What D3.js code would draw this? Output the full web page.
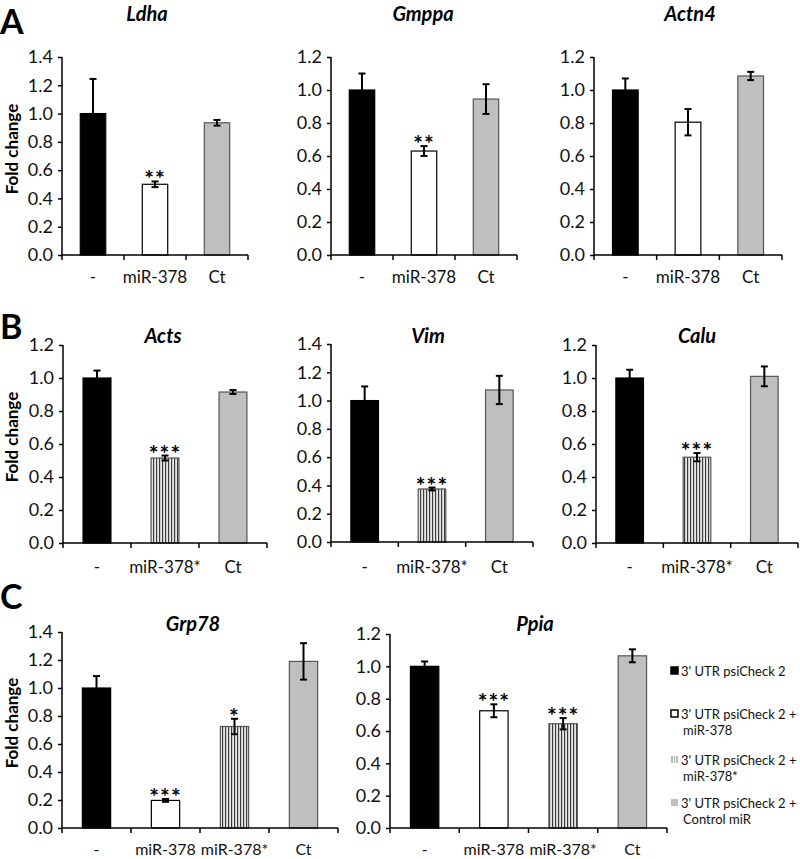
<!DOCTYPE html>
<html><head><meta charset="utf-8">
<script src="https://cdn.jsdelivr.net/npm/d3@7"></script>
<style>
body{margin:0;background:#fff;}
svg{display:block;font-family:Lato,"Open Sans",sans-serif;}
</style></head>
<body><svg id="c" width="800" height="859"></svg>
<script>
// ---- data ----
const genes = ["Ldha","Gmppa","Actn4","Acts","Vim","Calu","Grp78","Ppia"];
const catsA = ["-","miR-378","Ct"];
const catsB = ["-","miR-378*","Ct"];
const catsC = ["-","miR-378","miR-378*","Ct"];
const ldhaMean  = [1.00,0.50,0.935], ldhaErr  = [0.245,0.02,0.02], ldhaStars  = ["","**",""];
const gmppaMean = [1.00,0.63,0.945], gmppaErr = [0.10,0.03,0.09],  gmppaStars = ["","**",""];
const actn4Mean = [1.00,0.805,1.085],actn4Err = [0.07,0.08,0.025], actn4Stars = ["","",""];
const actsMean  = [1.00,0.515,0.915],actsErr  = [0.045,0.015,0.012],actsStars = ["","***",""];
const vimMean   = [1.00,0.375,1.075],vimErr   = [0.10,0.01,0.10],  vimStars   = ["","***",""];
const caluMean  = [1.00,0.52,1.01],  caluErr  = [0.05,0.025,0.06], caluStars  = ["","***",""];
const grp78Mean = [1.00,0.197,0.725,1.19], grp78Err = [0.085,0.01,0.055,0.13], grp78Stars = ["","***","*",""];
const ppiaMean  = [1.00,0.725,0.645,1.065],ppiaErr  = [0.03,0.04,0.035,0.04], ppiaStars  = ["","***","***",""];
const yMaxes = [1.4,1.2,1.2,1.2,1.4,1.2,1.4,1.2];
const yTickStep = 0.2;
const panelLetters = ["A","B","C"];
const legendLabels = [["3' UTR psiCheck 2"],["3' UTR psiCheck 2 +","miR-378"],["3' UTR psiCheck 2 +","miR-378*"],["3' UTR psiCheck 2 +","Control miR"]];
const legendKinds = ["ctrl","mir","mirstar","ct"];

// ---- layout ----
const svg = d3.select("#c");
const defs = svg.append("defs");
const pat = defs.append("pattern").attr("id","stripe").attr("patternUnits","userSpaceOnUse")
  .attr("width",3).attr("height",10);
pat.append("rect").attr("width",3).attr("height",10).attr("fill","#e6e6e6");
pat.append("line").attr("x1",0.6).attr("x2",0.6).attr("y1",0).attr("y2",10).attr("stroke","#333").attr("stroke-width",1.1);

function kindOf(c){ return c==="-"?"ctrl":c==="miR-378"?"mir":c==="miR-378*"?"mirstar":"ct"; }
const fillOf = {ctrl:"#000", mir:"#fff", mirstar:"url(#stripe)", ct:"#bfbfbf"};
const strokeOf = {ctrl:"#000", mir:"#000", mirstar:"#555", ct:"#555"};

const boxes = [
  {x0:62,x1:248,y0:57,y1:255, ty:21, ly:283, fs:17},
  {x0:331,x1:517,y0:57,y1:255, ty:21, ly:283, fs:17},
  {x0:594,x1:782,y0:57,y1:255, ty:21, ly:283, fs:17},
  {x0:63,x1:267,y0:345,y1:543, ty:343, ly:573, fs:17},
  {x0:331,x1:533,y0:344,y1:542, ty:343, ly:573, fs:17},
  {x0:596,x1:798,y0:345,y1:543, ty:343, ly:573, fs:17},
  {x0:62,x1:338,y0:632,y1:828, ty:631, ly:855, fs:16},
  {x0:390,x1:667,y0:634,y1:828, ty:631, ly:855, fs:16}
];
const titleX = [147,423,690,163,428,697,193,535];
const catsList = [catsA,catsA,catsA,catsB,catsB,catsB,catsC,catsC];
const means = [ldhaMean,gmppaMean,actn4Mean,actsMean,vimMean,caluMean,grp78Mean,ppiaMean];
const errs = [ldhaErr,gmppaErr,actn4Err,actsErr,vimErr,caluErr,grp78Err,ppiaErr];
const stars = [ldhaStars,gmppaStars,actn4Stars,actsStars,vimStars,caluStars,grp78Stars,ppiaStars];

genes.forEach((g,i)=>{
  const b = boxes[i], cats = catsList[i];
  const x = d3.scaleBand().domain(cats).range([b.x0,b.x1]).paddingInner(0.59).paddingOuter(0.295);
  const y = d3.scaleLinear().domain([0,yMaxes[i]]).range([b.y1,b.y0]);
  const G = svg.append("g");
  const rows = cats.map((c,j)=>({c, m:means[i][j], e:errs[i][j], s:stars[i][j]}));
  G.selectAll("rect.bar").data(rows).join("rect").attr("class","bar")
    .attr("x",d=>x(d.c)).attr("width",x.bandwidth())
    .attr("y",d=>y(d.m)).attr("height",d=>y(0)-y(d.m))
    .attr("fill",d=>fillOf[kindOf(d.c)]).attr("stroke",d=>strokeOf[kindOf(d.c)]).attr("stroke-width",1.2);
  const cx = d=>x(d.c)+x.bandwidth()/2;
  G.selectAll("line.ev").data(rows).join("line").attr("class","ev")
    .attr("x1",cx).attr("x2",cx).attr("y1",d=>y(d.m+d.e)).attr("y2",d=>y(d.m-d.e))
    .attr("stroke","#000").attr("stroke-width",2);
  [1,-1].forEach(sg=>{
    G.selectAll("line.cap"+(sg>0?"t":"b")).data(rows).join("line")
      .attr("x1",d=>cx(d)-3.5).attr("x2",d=>cx(d)+3.5)
      .attr("y1",d=>y(d.m+sg*d.e)).attr("y2",d=>y(d.m+sg*d.e))
      .attr("stroke","#000").attr("stroke-width",2);
  });
  G.selectAll("text.star").data(rows.filter(d=>d.s)).join("text")
    .attr("x",cx).attr("y",d=>y(d.m+d.e)+6).attr("text-anchor","middle")
    .attr("font-size",23).attr("font-weight","bold").attr("letter-spacing",1)
    .text(d=>d.s);
  const ticks = d3.range(0, yMaxes[i]+1e-9, yTickStep);
  const ya = G.append("g").attr("transform",`translate(${b.x0},0)`)
    .call(d3.axisLeft(y).tickValues(ticks).tickFormat(d3.format(".1f")).tickSize(4).tickPadding(5).tickSizeOuter(0));
  ya.select(".domain").attr("stroke-width",1.5).attr("d",`M0,${b.y1}V${b.y0}`);
  ya.selectAll(".tick line").attr("stroke-width",1.5);
  ya.selectAll(".tick text").attr("font-size",18).attr("fill","#111").attr("font-family","Lato,sans-serif");
  const xa = G.append("g").attr("transform",`translate(0,${b.y1})`);
  xa.append("line").attr("x1",b.x0).attr("x2",b.x1).attr("y1",0).attr("y2",0).attr("stroke","#000").attr("stroke-width",1.5);
  const bounds = cats.map(c=>x(c)-x.step()*x.paddingInner()/2).concat([b.x1]);
  xa.selectAll("line.t").data(bounds).join("line").attr("x1",d=>d).attr("x2",d=>d).attr("y1",0).attr("y2",5)
    .attr("stroke","#000").attr("stroke-width",1.5);
  G.selectAll("text.cat").data(cats).join("text").attr("x",c=>x(c)+x.bandwidth()/2).attr("y",b.ly)
    .attr("text-anchor","middle").attr("font-size",b.fs).attr("fill","#111").text(c=>c);
  G.append("text").attr("x",titleX[i]).attr("y",b.ty).attr("text-anchor","middle")
    .attr("font-size",20).attr("font-weight","bold").attr("font-style","italic").text(g);
  if (i===0||i===3||i===6){
    G.append("text").attr("transform",`translate(18,${(b.y0+b.y1)/2-7}) rotate(-90)`)
      .attr("text-anchor","middle").attr("font-size",17).attr("font-weight","bold").text("Fold change");
  }
});
const letterY = [34,339,609];
svg.selectAll("text.letter").data(panelLetters).join("text").attr("x",0).attr("y",(d,k)=>letterY[k])
  .attr("font-size",34).attr("font-weight","bold").text(d=>d);

const legY = [671,714,760,803];
const lg = svg.append("g");
legendLabels.forEach((lines,k)=>{
  const kd = legendKinds[k];
  lg.append("rect").attr("x",671).attr("y",legY[k]-4).attr("width",7).attr("height",7)
    .attr("fill",kd==="mirstar"?"#bbb":fillOf[kd]).attr("stroke",(kd==="mir"||kd==="ctrl")?"#000":"none").attr("stroke-width",1.5);
  if(kd==="mirstar"){
    lg.append("line").attr("x1",673.5).attr("x2",673.5).attr("y1",legY[k]-4).attr("y2",legY[k]+3).attr("stroke","#fff").attr("stroke-width",0.8);
    lg.append("line").attr("x1",675.5).attr("x2",675.5).attr("y1",legY[k]-4).attr("y2",legY[k]+3).attr("stroke","#fff").attr("stroke-width",0.8);
  }
  lines.forEach((t,m)=>{
    lg.append("text").attr("x",m===0?681:683).attr("y",legY[k]+5+m*16).attr("font-size",13).attr("fill","#111").text(t);
  });
});
</script></body></html>
